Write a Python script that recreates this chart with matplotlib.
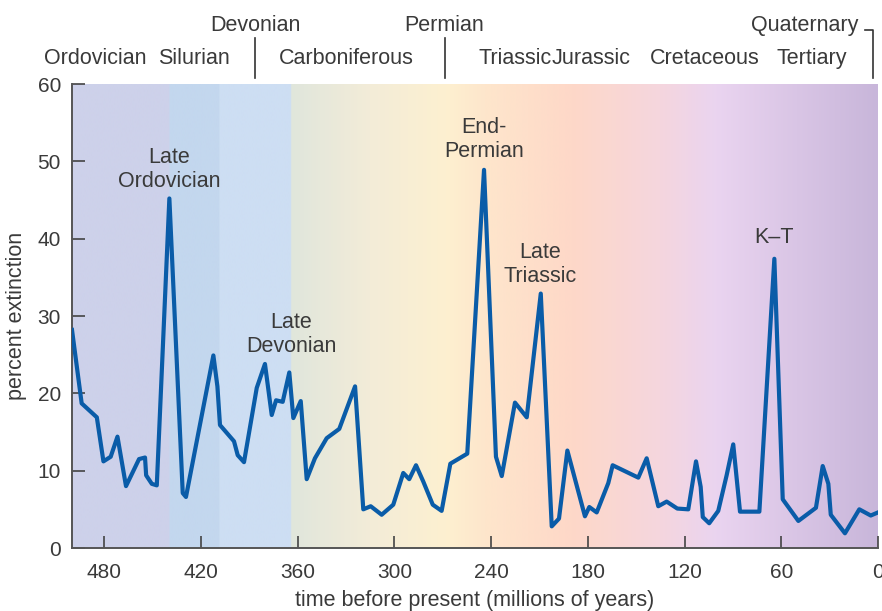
import numpy as np
import matplotlib
matplotlib.use("Agg")
import matplotlib.pyplot as plt
import matplotlib.transforms as mtransforms
from matplotlib.colors import to_rgb

plt.rcParams['font.family'] = ['Liberation Sans', 'DejaVu Sans']

# ---- data (millions of years before present, percent extinction) ----
ages = [500, 494, 484.6, 480.5, 476, 471.8, 466.5, 458.4, 454.7, 454, 450.5, 447.4,
        439.6, 431.3, 429.3, 412.3, 409.8, 408.2, 399.5, 397.2, 393.3, 385.4, 380.3,
        376.1, 373.4, 369.3, 365.2, 362.7, 358.1, 354.4, 349.3, 342, 334.2, 324.4,
        319.3, 314.7, 307.9, 300.7, 294.5, 290.8, 286.6, 282.1, 276.2, 270.7, 265.3,
        254.8, 244.4, 237, 233.4, 225.2, 217.9, 209.2, 202.4, 197.9, 192.7, 181.8,
        179.1, 174.5, 167.3, 164.6, 148.7, 143.5, 136.3, 131.1, 124.5, 117.7, 112.9,
        110, 108.7, 104.7, 99.1, 93.9, 89.8, 85.6, 73.6, 64.3, 59.1, 49.4, 38.5, 34.3,
        30.8, 29.3, 20.5, 11.6, 4.5, 0]
extinction = [28.2, 18.7, 16.9, 11.2, 11.8, 14.4, 8.0, 11.5, 11.7, 9.4, 8.3, 8.1,
              45.2, 7.1, 6.6, 24.9, 20.9, 15.9, 13.8, 12.0, 11.1, 20.7, 23.8,
              17.2, 19.1, 18.9, 22.7, 16.8, 19.0, 8.9, 11.6, 14.2, 15.4, 20.9,
              5.0, 5.4, 4.3, 5.6, 9.7, 8.9, 10.7, 8.6, 5.6, 4.8, 10.9,
              12.2, 48.9, 11.8, 9.3, 18.8, 16.9, 32.9, 2.8, 3.8, 12.6, 4.1,
              5.3, 4.6, 8.4, 10.7, 9.1, 11.6, 5.4, 6.0, 5.1, 5.0, 11.2,
              7.9, 4.0, 3.2, 4.8, 9.4, 13.4, 4.7, 4.7, 37.4, 6.3, 3.5, 5.2, 10.6,
              8.3, 4.3, 1.9, 5.0, 4.2, 4.6]

x_ticks = [480, 420, 360, 300, 240, 180, 120, 60, 0]
y_ticks = [0, 10, 20, 30, 40, 50, 60]

# period labels: (name, age centre, row)
period_names = ['Ordovician', 'Silurian', 'Carboniferous', 'Triassic', 'Jurassic',
                'Cretaceous', 'Tertiary', 'Devonian', 'Permian']
period_ages = [485.7, 424.3, 330, 224.9, 178, 107.3, 41.3, 386.2, 268.9]
period_rows = [0, 0, 0, 0, 0, 0, 0, 1, 1]

event_names = ['Late\nOrdovician', 'Late\nDevonian', 'End-\nPermian', 'Late\nTriassic', 'K–T']
event_ages = [439.6, 364, 244.4, 209.4, 64.5]
event_levels = [48.9, 27.6, 52.8, 36.7, 40.2]

# background colour stops (age, colour)
bg_ages = [500, 439.6, 439.5, 408.6, 408.5, 364.1, 364, 315, 268, 244, 190, 135, 100, 0]
bg_colors = ['#cdd1ea', '#cdd1ea', '#c3d7ee', '#c3d7ee', '#cddef3', '#cddef3',
             '#e0e6dc', '#f3ecd8', '#fdf0d0', '#fee6cc', '#fed8c8', '#f5d6de',
             '#ead4f0', '#c8b6da']

TXT = '#3a3a3a'
FS = 15.5

# ---- figure ----
fig = plt.figure(figsize=(8.82, 6.11), dpi=100)
ax = fig.add_axes([72/882, 63/611, 806/882, 464/611])

# gradient background
xs = np.linspace(0, 500, 2001)
asc_ages = bg_ages[::-1]
asc_cols = np.array([to_rgb(c) for c in bg_colors[::-1]])
img = np.stack([np.interp(xs, asc_ages, asc_cols[:, k]) for k in range(3)], axis=-1)
img = img[np.newaxis, :, :]
ax.imshow(img, extent=[0, 500, 0, 60], aspect='auto', origin='lower',
          interpolation='bilinear', zorder=0)

ax.plot(ages, extinction, color='#0a5ca8', lw=3.0, solid_joinstyle='round', zorder=3)

ax.set_xlim(500, 0)
ax.set_ylim(0, 60)
ax.set_xticks(x_ticks)
ax.set_yticks(y_ticks)
ax.set_xticklabels([str(v) for v in x_ticks])
ax.set_yticklabels([str(v) for v in y_ticks])

for s in ['top', 'right']:
    ax.spines[s].set_visible(False)
for s in ['left', 'bottom']:
    ax.spines[s].set_color('#555555')
    ax.spines[s].set_linewidth(1.4)
ax.tick_params(direction='in', length=9, width=1.2, color='#444444',
               labelsize=15, labelcolor=TXT)
ax.tick_params(axis='x', pad=11)
ax.tick_params(axis='y', pad=8)

ax.set_xlabel('time before present (millions of years)', fontsize=FS, color=TXT)
ax.set_ylabel('percent extinction', fontsize=FS, color=TXT)
ax.xaxis.set_label_coords(0.5, -0.091)
ax.yaxis.set_label_coords(-0.056, 0.5)

# event annotations
for name, a, lv in zip(event_names, event_ages, event_levels):
    ax.text(a, lv, name, ha='center', va='center', fontsize=FS, color=TXT,
            linespacing=1.2, zorder=4)

# period labels above the axes
trans = mtransforms.blended_transform_factory(ax.transData, ax.transAxes)
row_y = [1.054, 1.127]
for name, a, r in zip(period_names, period_ages, period_rows):
    ax.text(a, row_y[r], name, ha='center', va='center', fontsize=FS,
            color=TXT, transform=trans, clip_on=False)
ax.text(12.4, 1.127, 'Quaternary', ha='right', va='center', fontsize=FS,
        color=TXT, transform=trans, clip_on=False)

# divider lines
for a in [386.5, 268.6]:
    ax.plot([a, a], [1.013, 1.099], color='#333333', lw=1.2, transform=trans,
            clip_on=False)
ax.plot([8.0, 3.1, 3.1], [1.116, 1.116, 1.013], color='#333333', lw=1.2,
        transform=trans, clip_on=False)

fig.savefig('out.png', dpi=100)
